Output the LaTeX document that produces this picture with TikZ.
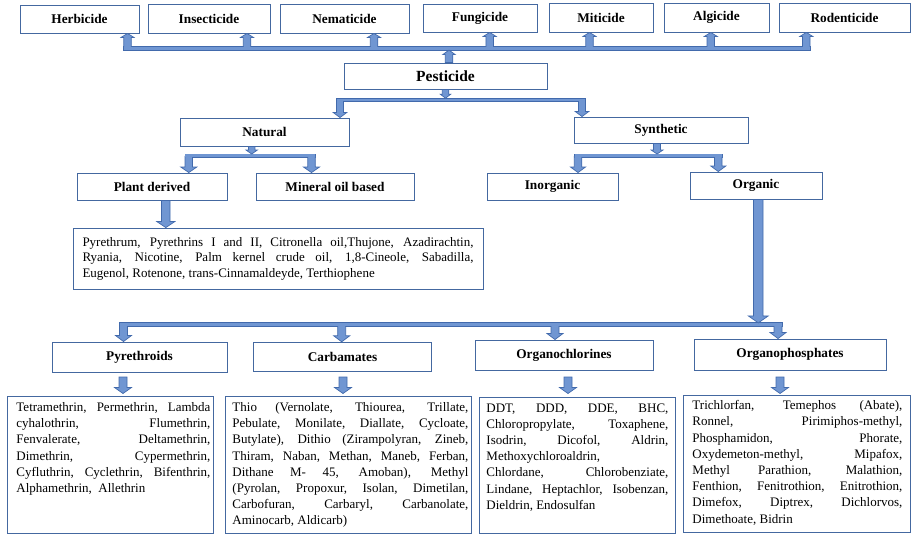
\documentclass[tikz,border=0pt]{standalone}
\usepackage{fontspec}
\setmainfont{Liberation Serif}
\usetikzlibrary{calc}
\definecolor{boxc}{RGB}{68,104,160}
\definecolor{arrfill}{RGB}{112,150,210}
\definecolor{arrline}{RGB}{66,106,172}
% block arrow: #1 start, #2 end, #3 shaft width, #4 head width, #5 head length, #6 closing
\newcommand\blkarrow[6]{%
  \fill[arrfill] let \p1=#1, \p2=#2, \p3=($#2!#5!#1$) in
    ({\x1-#3/2},\y1) -- ({\x1-#3/2},\y3) -- ({\x1-#4/2},\y3) -- (\x1,\y2)
    -- ({\x1+#4/2},\y3) -- ({\x1+#3/2},\y3) -- ({\x1+#3/2},\y1) -- cycle;
  \draw[aline] let \p1=#1, \p2=#2, \p3=($#2!#5!#1$) in
    ({\x1-#3/2},\y1) -- ({\x1-#3/2},\y3) -- ({\x1-#4/2},\y3) -- (\x1,\y2)
    -- ({\x1+#4/2},\y3) -- ({\x1+#3/2},\y3) -- ({\x1+#3/2},\y1) #6;}
\newcommand\barout[3]{\filldraw[fill=arrfill, aline] let \p1=#1, \p2=#2 in
    (\x1,{\y1+#3}) rectangle (\x2,{\y1-#3});}
\newcommand\barin[3]{\fill[arrfill] let \p1=#1, \p2=#2 in
    ({\x1+0.35pt},{\y1+#3-0.35pt}) rectangle ({\x2-0.35pt},{\y1-#3+0.35pt});}
\newcommand\lsttext[6]{\parbox[t][#1][t]{#2}{\setlength\leftskip{#3}\setlength\rightskip{#4}%
  \tolerance=10000 \hbadness=10000 \hyphenpenalty=10000 \exhyphenpenalty=10000
  \vspace*{#5}#6}}
\begin{document}
\begin{tikzpicture}[x=1pt,y=-1pt,
  hbox/.style={draw=boxc, line width=0.9pt, fill=white, inner sep=0pt,
    font=\fontsize{13.3}{15}\selectfont\bfseries},
  lbox/.style={draw=boxc, line width=0.9pt, fill=white, inner sep=0pt, anchor=north west,
    font=\fontsize{13}{16.2}\selectfont},
  aline/.style={draw=arrline, line width=0.7pt, line join=miter}]
\useasboundingbox (0,0) rectangle (912,535);

% ---- category boxes
\node[hbox, minimum width=119pt, minimum height=28pt] (herb)   at (79.5,19)   {Herbicide};
\node[hbox, minimum width=122pt, minimum height=29pt] (insect) at (209,18.5)  {Insecticide};
\node[hbox, minimum width=129pt, minimum height=29pt] (nemat)  at (344.5,18.5){Nematicide};
\node[hbox, minimum width=114pt, minimum height=28pt] (fung)   at (480,18)    {Fungicide};
\node[hbox, minimum width=104pt, minimum height=29pt] (mitic)  at (601,17.5)  {Miticide};
\node[hbox, minimum width=105pt, minimum height=29pt] (algic)  at (716.5,17.5){Algicide};
\node[hbox, minimum width=131pt, minimum height=29pt] (rodent) at (844.5,17.5){Rodenticide};

\node[hbox, minimum width=203pt, minimum height=26pt, font=\fontsize{15.5}{17}\selectfont\bfseries] (pest) at (445.5,76) {Pesticide};

\node[hbox, minimum width=169pt, minimum height=28pt] (natural) at (264.5,132) {Natural};
\node[hbox, minimum width=174pt, minimum height=26pt] (synth)   at (661,130)   {Synthetic};

\node[hbox, minimum width=150pt, minimum height=27pt] (plant)   at (152,186.5) {Plant derived};
\node[hbox, minimum width=158pt, minimum height=27pt] (mineral) at (335,186.5) {Mineral oil based};
\node[hbox, minimum width=131pt, minimum height=27pt] (inorg)   at (552.5,186.5) {Inorganic};
\node[hbox, minimum width=132pt, minimum height=27pt] (organic) at (756,185.5) {Organic};

\node[draw=boxc, line width=0.9pt, fill=white, inner sep=0pt, minimum width=410pt, minimum height=61pt,
  font=\fontsize{13}{15.4}\selectfont] (plantlist) at (278,258.5)
  {\parbox{391pt}{\tolerance=10000 \hbadness=10000 \hyphenpenalty=10000 \exhyphenpenalty=10000
  Pyrethrum, Pyrethrins I and II, Citronella oil,Thujone, Azadirachtin,\linebreak
  Ryania, Nicotine, Palm kernel crude oil, 1,8-Cineole, Sabadilla,\linebreak
  Eugenol, Rotenone, trans-Cinnamaldeyde, Terthiophene}};

\node[hbox, minimum width=175pt, minimum height=30pt]   (pyr)   at (139.5,357) {Pyrethroids};
\node[hbox, minimum width=178.5pt, minimum height=29.5pt] (carb) at (342.5,357) {Carbamates};
\node[hbox, minimum width=178pt, minimum height=30pt]   (ochl)  at (564,355)   {Organochlorines};
\node[hbox, minimum width=192pt, minimum height=31pt]   (ophos) at (790,354.5) {Organophosphates};

% ---- lists
\node[lbox] (pyrlist) at (7,396) {\lsttext{137pt}{206pt}{9pt}{3pt}{6pt}{%
Tetramethrin, Permethrin, Lambda\linebreak
cyhalothrin, Flumethrin,\linebreak
Fenvalerate, Deltamethrin,\linebreak
Dimethrin, Cypermethrin,\linebreak
Cyfluthrin, Cyclethrin, Bifenthrin,\linebreak
Alphamethrin,\ \ Allethrin}};
\node[lbox] (carblist) at (225,396) {\lsttext{137pt}{246pt}{7pt}{3pt}{6pt}{%
Thio (Vernolate, Thiourea, Trillate,\linebreak
Pebulate, Monilate, Diallate, Cycloate,\linebreak
Butylate), Dithio (Zirampolyran, Zineb,\linebreak
Thiram, Naban, Methan, Maneb, Ferban,\linebreak
Dithane M- 45, Amoban), Methyl\linebreak
(Pyrolan, Propoxur, Isolan, Dimetilan,\linebreak
Carbofuran, Carbaryl, Carbanolate,\linebreak
Aminocarb, Aldicarb)}};
\node[lbox] (ochllist) at (479,397) {\lsttext{136pt}{196pt}{7pt}{7pt}{6pt}{%
DDT, DDD, DDE, BHC,\linebreak
Chloropropylate, Toxaphene,\linebreak
Isodrin, Dicofol, Aldrin,\linebreak
Methoxychloroaldrin,\linebreak
Chlordane, Chlorobenziate,\linebreak
Lindane, Heptachlor, Isobenzan,\linebreak
Dieldrin, Endosulfan}};
\node[lbox] (ophoslist) at (683,395) {\lsttext{137pt}{227pt}{9pt}{8pt}{5pt}{%
Trichlorfan, Temephos (Abate),\linebreak
Ronnel, Pirimiphos-methyl,\linebreak
Phosphamidon, Phorate,\linebreak
Oxydemeton-methyl, Mipafox,\linebreak
Methyl Parathion, Malathion,\linebreak
Fenthion, Fenitrothion, Enitrothion,\linebreak
Dimefox, Diptrex, Dichlorvos,\linebreak
Dimethoate, Bidrin}};

% ---- bar coordinates
\coordinate (tbL) at (123.75,48.3);  \coordinate (tbR) at (810.05,48.3);
\coordinate (pbL) at (336.5,100);    \coordinate (pbR) at (585.5,100);
\coordinate (nbL) at (185.05,155.8); \coordinate (nbR) at (315.25,155.8);
\coordinate (sbL) at (574.25,155.8); \coordinate (sbR) at (722.05,155.8);
\coordinate (obL) at (119.5,324.7);  \coordinate (obR) at (782,324.7);
% arrow roots on bars
\coordinate (t1) at (127.5,48.3); \coordinate (t2) at (247,48.3);
\coordinate (t3) at (374,48.3);   \coordinate (t4) at (489.7,48.3);
\coordinate (t5) at (589.5,48.3); \coordinate (t6) at (710.8,48.3);
\coordinate (t7) at (806.3,48.3);
\coordinate (p1) at (340,100);    \coordinate (p2) at (582,100);
\coordinate (n1) at (188.8,155.8); \coordinate (n2) at (311.5,155.8);
\coordinate (s1) at (578,155.8);  \coordinate (s2) at (718.3,155.8);
\coordinate (o1) at (123.5,324.7); \coordinate (o2) at (341.7,324.7);
\coordinate (o3) at (555,324.7);   \coordinate (o4) at (778,324.7);
% free arrow ends
\coordinate (pu0) at (449,50.1);
\coordinate (pd0) at (445.5,98.2);
\coordinate (nd0) at (251.7,154);
\coordinate (sd0) at (657,154);
\coordinate (od0) at (758.3,322.9);
\coordinate (pl0) at (165.8,0);
\coordinate (k1a) at (123,377);   \coordinate (k1b) at (123,393.5);
\coordinate (k2a) at (343,377);   \coordinate (k2b) at (343,393.5);
\coordinate (k3a) at (568,377);   \coordinate (k3b) at (568,393.5);
\coordinate (k4a) at (780,377);   \coordinate (k4b) at (780,393.5);

% ---- bars (outline)
\barout{(tbL)}{(tbR)}{1.8}
\barout{(pbL)}{(pbR)}{1.8}
\barout{(nbL)}{(nbR)}{1.9}
\barout{(sbL)}{(sbR)}{1.9}
\barout{(obL)}{(obR)}{1.9}

% ---- arrows leaving bars
\blkarrow{(t1)}{(t1 |- herb.south)}{7.5pt}{13pt}{4pt}{}
\blkarrow{(t2)}{(t2 |- insect.south)}{7.5pt}{13pt}{4pt}{}
\blkarrow{(t3)}{(t3 |- nemat.south)}{7.5pt}{13pt}{4pt}{}
\blkarrow{(t4)}{(t4 |- fung.south)}{7.5pt}{13pt}{4pt}{}
\blkarrow{(t5)}{(t5 |- mitic.south)}{7.5pt}{13pt}{4pt}{}
\blkarrow{(t6)}{(t6 |- algic.south)}{7.5pt}{13pt}{4pt}{}
\blkarrow{(t7)}{(t7 |- rodent.south)}{7.5pt}{13pt}{4pt}{}
\blkarrow{(p1)}{(p1 |- natural.north)}{7pt}{13.5pt}{5pt}{}
\blkarrow{(p2)}{(p2 |- synth.north)}{7pt}{13.5pt}{5pt}{}
\blkarrow{(n1)}{(n1 |- plant.north)}{7.5pt}{16pt}{5.5pt}{}
\blkarrow{(n2)}{(n2 |- mineral.north)}{7.5pt}{16pt}{5.5pt}{}
\blkarrow{(s1)}{(s1 |- inorg.north)}{7.5pt}{15pt}{5.5pt}{}
\blkarrow{(s2)}{(s2 |- organic.north)}{7.5pt}{15pt}{5.5pt}{}
\blkarrow{(o1)}{(o1 |- pyr.north)}{8pt}{16pt}{6pt}{}
\blkarrow{(o2)}{(o2 |- carb.north)}{8pt}{16pt}{6pt}{}
\blkarrow{(o3)}{(o3 |- ochl.north)}{8pt}{16pt}{6pt}{}
\blkarrow{(o4)}{(o4 |- ophos.north)}{8pt}{16pt}{6pt}{}

% ---- bars (inner fill)
\barin{(tbL)}{(tbR)}{1.8}
\barin{(pbL)}{(pbR)}{1.8}
\barin{(nbL)}{(nbR)}{1.9}
\barin{(sbL)}{(sbR)}{1.9}
\barin{(obL)}{(obR)}{1.9}

% ---- closed arrows
\blkarrow{(pu0 |- pest.north)}{(pu0)}{7.5pt}{12.5pt}{4.5pt}{-- cycle}
\blkarrow{(pd0 |- pest.south)}{(pd0)}{6.5pt}{10.5pt}{4pt}{-- cycle}
\blkarrow{(nd0 |- natural.south)}{(nd0)}{6.5pt}{11.5pt}{4pt}{-- cycle}
\blkarrow{(sd0 |- synth.south)}{(sd0)}{7pt}{12pt}{4pt}{-- cycle}
\blkarrow{(od0 |- organic.south)}{(od0)}{9.5pt}{20pt}{7pt}{-- cycle}
\blkarrow{(pl0 |- plant.south)}{(pl0 |- plantlist.north)}{8.5pt}{18pt}{6pt}{-- cycle}
\blkarrow{(k1a)}{(k1b)}{8pt}{17pt}{6pt}{-- cycle}
\blkarrow{(k2a)}{(k2b)}{8pt}{17pt}{6pt}{-- cycle}
\blkarrow{(k3a)}{(k3b)}{8pt}{17pt}{6pt}{-- cycle}
\blkarrow{(k4a)}{(k4b)}{8pt}{17pt}{6pt}{-- cycle}
\end{tikzpicture}
\end{document}
